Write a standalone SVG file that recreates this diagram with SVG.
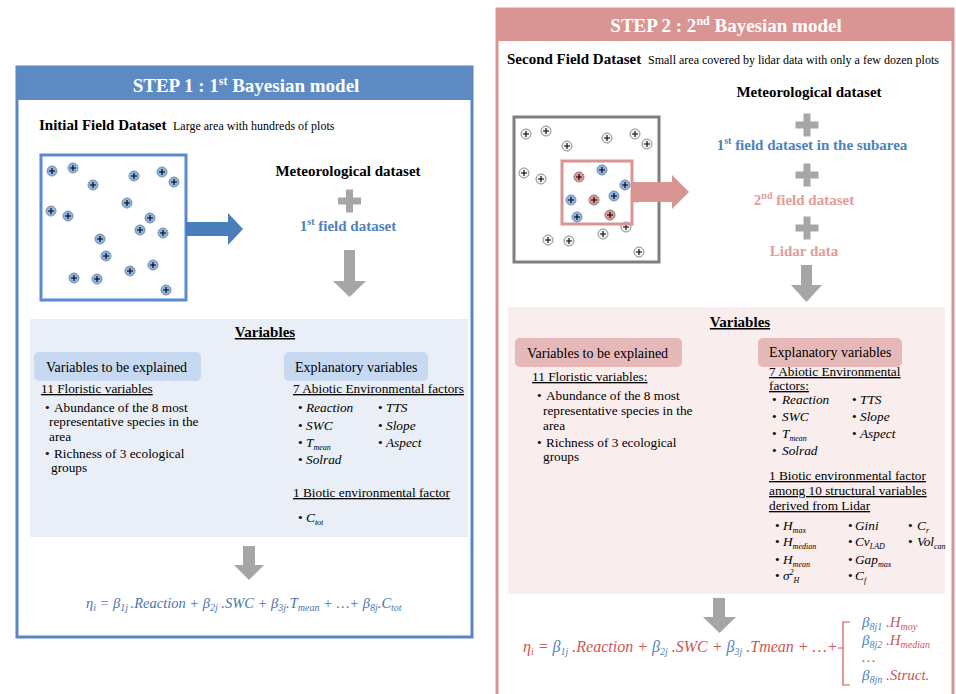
<svg xmlns="http://www.w3.org/2000/svg" xmlns:xlink="http://www.w3.org/1999/xlink" width="956" height="694" viewBox="0 0 956 694">
<style>
text{font-family:'Liberation Serif','Times New Roman',serif;fill:#000}
.hdr{font-size:19px;font-weight:bold;fill:#fff;text-anchor:middle}
.ttl{font-size:15px;font-weight:bold}
.sub{font-size:12px}
.lbl{font-size:14px}
.t13{font-size:13.3px}
.u{text-decoration:underline}
.it{font-style:italic}
.mid{text-anchor:middle}
.blue{fill:#4F81BD}
.pink{fill:#E29C9B}
.red{fill:#CF5654}
.eq1{fill:#4A72AE;font-style:italic;font-size:14.5px}
.eq2{font-style:italic;font-size:16px}
.eq3{font-style:italic;font-size:15px}
.arrowG{fill:#A6A6A6}
</style>
<defs>
<g id="dotB"><circle r="5" fill="#8DB3E2" stroke="#7F8FA6" stroke-width="1"/><path d="M-3 0H3M0-3V3" stroke="#000" stroke-width="1.1"/></g>
<g id="dotR"><circle r="5" fill="#E39494" stroke="#8F7F7F" stroke-width="1"/><path d="M-3 0H3M0-3V3" stroke="#000" stroke-width="1.1"/></g>
<g id="dotG"><circle r="5" fill="#F2F2F2" stroke="#8C8C8C" stroke-width="1"/><path d="M-3 0H3M0-3V3" stroke="#000" stroke-width="1.1"/></g>
<path id="plus" d="M-11.5-3.5H-3.5V-11.5H3.5V-3.5H11.5V3.5H3.5V11.5H-3.5V3.5H-11.5Z" fill="#A6A6A6"/>
</defs>

<!-- STEP 1 -->
<g id="step1">
<rect x="17" y="67" width="455" height="570" fill="#fff" stroke="#5A86C1" stroke-width="3"/>
<rect x="17" y="67" width="455" height="33" fill="#5E8AC4"/>
<text class="hdr" x="246" y="92">STEP 1 : 1<tspan font-size="12" dy="-7">st</tspan><tspan dy="7"> Bayesian model</tspan></text>
</g>

<g id="initialDataset">
<text class="ttl" x="39" y="130">Initial Field Dataset</text>
<text class="sub" x="173" y="130">Large area with hundreds of plots</text>
<rect x="41" y="155" width="145" height="145" fill="#fff" stroke="#5A8AD0" stroke-width="3"/>
<use href="#dotB" x="52" y="171"/><use href="#dotB" x="73" y="168"/><use href="#dotB" x="93" y="185"/>
<use href="#dotB" x="134" y="176"/><use href="#dotB" x="162" y="172"/><use href="#dotB" x="174" y="182"/>
<use href="#dotB" x="127" y="203"/><use href="#dotB" x="51" y="211"/><use href="#dotB" x="68" y="216"/>
<use href="#dotB" x="150" y="218"/><use href="#dotB" x="140" y="230"/><use href="#dotB" x="163" y="233"/>
<use href="#dotB" x="100" y="239"/><use href="#dotB" x="106" y="256"/><use href="#dotB" x="153" y="265"/>
<use href="#dotB" x="130" y="271"/><use href="#dotB" x="74" y="278"/><use href="#dotB" x="97" y="279"/>
<use href="#dotB" x="166" y="290"/>
</g>

<g id="datasets1">
<text class="ttl mid" x="348" y="176">Meteorological dataset</text>
<use href="#plus" x="349.5" y="201"/>
<text class="ttl mid blue" x="348" y="231">1<tspan font-size="10" dy="-6">st</tspan><tspan dy="6">  field dataset</tspan></text>
</g>

<g id="variables1">
<rect x="30" y="319" width="438" height="218" fill="#E9EEF7"/>
<text class="ttl u mid" x="265" y="337">Variables</text>
<rect x="34" y="352" width="167" height="29" rx="5" fill="#C6D9F1"/>
<text class="lbl" x="46" y="372">Variables to be explained</text>
<text class="t13 u" x="41" y="393">11 Floristic variables</text>
<text class="t13"><tspan x="45" y="412">•</tspan><tspan x="54" y="412">Abundance of the 8 most</tspan><tspan x="49" y="426">representative species in the</tspan><tspan x="49" y="441">area</tspan><tspan x="45" y="458">•</tspan><tspan x="54" y="458">Richness  of 3 ecological</tspan><tspan x="51" y="472">groups</tspan></text>
<rect x="284" y="352" width="144" height="29" rx="5" fill="#C6D9F1"/>
<text class="lbl" x="295" y="372">Explanatory variables</text>
<text class="t13 u" x="293" y="393">7 Abiotic Environmental factors</text>
<text class="t13"><tspan x="298" y="412">•</tspan><tspan x="298" y="430">•</tspan><tspan x="298" y="447">•</tspan><tspan x="298" y="464">•</tspan><tspan x="378" y="412">•</tspan><tspan x="378" y="430">•</tspan><tspan x="378" y="447">•</tspan></text>
<text class="t13 it"><tspan x="306" y="412">Reaction</tspan><tspan x="306" y="430">SWC</tspan><tspan x="306" y="447">T</tspan><tspan font-size="8" dy="3">mean</tspan><tspan x="306" y="464">Solrad</tspan><tspan x="386" y="412">TTS</tspan><tspan x="386" y="430">Slope</tspan><tspan x="386" y="447">Aspect</tspan></text>
<text class="t13 u" x="293" y="497">1 Biotic environmental factor</text>
<text class="t13"><tspan x="298" y="522">•</tspan></text>
<text class="t13 it" x="306" y="522">C<tspan font-size="8" dy="3">tot</tspan></text>
</g>

<g id="equation1">
<text class="eq1" x="86" y="608">η<tspan font-size="10" dy="3">i</tspan><tspan dy="-3"> = β</tspan><tspan font-size="10" dy="3">1j </tspan><tspan dy="-3">.Reaction + β</tspan><tspan font-size="10" dy="3">2j</tspan><tspan dy="-3"> .SWC + β</tspan><tspan font-size="10" dy="3">3j</tspan><tspan dy="-3">.T</tspan><tspan font-size="10" dy="3">mean</tspan><tspan dy="-3"> + …+ β</tspan><tspan font-size="10" dy="3">8j</tspan><tspan dy="-3">.C</tspan><tspan font-size="10" dy="3">tot</tspan></text>
</g>

<!-- STEP 2 -->
<g id="step2">
<rect x="497" y="9" width="456" height="700" fill="#fff" stroke="#D99594" stroke-width="3"/>
<rect x="497" y="9" width="456" height="32" fill="#D99594"/>
<text class="hdr" x="726" y="32">STEP 2 : 2<tspan font-size="12" dy="-7">nd</tspan><tspan dy="7"> Bayesian model</tspan></text>
</g>

<g id="secondDataset">
<text class="ttl" x="507" y="64">Second Field Dataset</text>
<text class="sub" x="648" y="64">Small area covered by lidar data with only a few dozen plots</text>
<rect x="514" y="117" width="145" height="145" fill="#fff" stroke="#7F7F7F" stroke-width="3"/>
<use href="#dotG" x="526" y="134"/><use href="#dotG" x="546" y="131"/><use href="#dotG" x="567" y="146"/>
<use href="#dotG" x="607" y="138"/><use href="#dotG" x="635" y="134"/><use href="#dotG" x="647" y="144"/>
<use href="#dotG" x="524" y="173"/><use href="#dotG" x="541" y="179"/><use href="#dotG" x="637" y="197"/>
<use href="#dotG" x="626" y="227"/><use href="#dotG" x="603" y="234"/><use href="#dotG" x="548" y="240"/>
<use href="#dotG" x="569" y="241"/><use href="#dotG" x="639" y="252"/>
<rect x="562" y="161" width="70" height="63" fill="none" stroke="#D99594" stroke-width="3"/>
<use href="#dotB" x="602" y="170"/><use href="#dotB" x="625" y="185"/><use href="#dotB" x="571" y="200"/>
<use href="#dotB" x="614" y="196"/><use href="#dotB" x="577" y="217"/>
<use href="#dotR" x="579" y="177"/><use href="#dotR" x="594" y="200"/><use href="#dotR" x="610" y="215"/>
</g>

<g id="datasets2">
<text class="ttl mid" x="809" y="97">Meteorological dataset</text>
<use href="#plus" x="807" y="125"/>
<text class="ttl mid blue" x="812" y="150">1<tspan font-size="10" dy="-6">st</tspan><tspan dy="6"> field dataset in the subarea</tspan></text>
<use href="#plus" x="807" y="175"/>
<text class="ttl mid pink" x="804" y="205">2<tspan font-size="10" dy="-6">nd</tspan><tspan dy="6"> field dataset</tspan></text>
<use href="#plus" x="807" y="228"/>
<text class="ttl mid pink" x="804" y="256">Lidar data</text>
</g>

<g id="variables2">
<rect x="508" y="307" width="437" height="287" fill="#F9EDED"/>
<text class="ttl u mid" x="740" y="327">Variables</text>
<rect x="515" y="338" width="167" height="29" rx="5" fill="#E6B9B8"/>
<text class="lbl" x="527" y="358">Variables to be explained</text>
<text class="t13 u" x="532" y="381">11 Floristic variables:</text>
<text class="t13"><tspan x="537" y="400">•</tspan><tspan x="546" y="400">Abundance of the 8 most</tspan><tspan x="543" y="415">representative species in the</tspan><tspan x="543" y="430">area</tspan><tspan x="537" y="447">•</tspan><tspan x="546" y="447">Richness  of 3 ecological</tspan><tspan x="543" y="461">groups</tspan></text>
<rect x="758" y="338" width="144" height="29" rx="5" fill="#E6B9B8"/>
<text class="lbl" x="769" y="357">Explanatory variables</text>
<text class="t13 u"><tspan x="769" y="376">7 Abiotic Environmental</tspan><tspan x="769" y="390">factors:</tspan></text>
<text class="t13"><tspan x="772" y="404">•</tspan><tspan x="772" y="421">•</tspan><tspan x="772" y="438">•</tspan><tspan x="772" y="455">•</tspan><tspan x="852" y="404">•</tspan><tspan x="852" y="421">•</tspan><tspan x="852" y="438">•</tspan></text>
<text class="t13 it"><tspan x="782" y="404">Reaction</tspan><tspan x="782" y="421">SWC</tspan><tspan x="782" y="438">T</tspan><tspan font-size="8" dy="3">mean</tspan><tspan x="782" y="455">Solrad</tspan><tspan x="860" y="404">TTS</tspan><tspan x="860" y="421">Slope</tspan><tspan x="860" y="438">Aspect</tspan></text>
<text class="t13 u"><tspan x="769" y="480">1 Biotic environmental factor</tspan><tspan x="769" y="495">among 10 structural variables</tspan><tspan x="769" y="510">derived from Lidar</tspan></text>
<text class="t13"><tspan x="775" y="530">•</tspan><tspan x="775" y="546">•</tspan><tspan x="775" y="564">•</tspan><tspan x="775" y="580">•</tspan><tspan x="848" y="530">•</tspan><tspan x="848" y="546">•</tspan><tspan x="848" y="564">•</tspan><tspan x="848" y="580">•</tspan><tspan x="908" y="530">•</tspan><tspan x="908" y="546">•</tspan></text>
<text class="t13 it"><tspan x="783" y="530">H</tspan><tspan font-size="8" dy="3">max</tspan><tspan x="783" y="546">H</tspan><tspan font-size="8" dy="3">median</tspan><tspan x="783" y="564">H</tspan><tspan font-size="8" dy="3">mean</tspan><tspan x="783" y="580">σ</tspan><tspan font-size="8" dy="-5">2</tspan><tspan font-size="8" dy="8">H</tspan></text>
<text class="t13 it"><tspan x="855" y="530">Gini</tspan><tspan x="855" y="546">Cv</tspan><tspan font-size="8" dy="3">LAD</tspan><tspan x="855" y="564">Gap</tspan><tspan font-size="8" dy="3">max</tspan><tspan x="855" y="580">C</tspan><tspan font-size="8" dy="3">f</tspan></text>
<text class="t13 it"><tspan x="917" y="530">C</tspan><tspan font-size="8" dy="3">r</tspan><tspan x="917" y="546">Vol</tspan><tspan font-size="8" dy="3">can</tspan></text>
</g>

<g id="equation2">
<text class="eq2 red" x="523" y="652">η<tspan font-size="10" dy="3">i</tspan><tspan dy="-3"> = </tspan><tspan class="blue">β</tspan><tspan class="blue" font-size="10" dy="3">1j</tspan><tspan dy="-3"> .Reaction + </tspan><tspan class="blue">β</tspan><tspan class="blue" font-size="10" dy="3">2j</tspan><tspan dy="-3"> .SWC + </tspan><tspan class="blue">β</tspan><tspan class="blue" font-size="10" dy="3">3j</tspan><tspan dy="-3"> .Tmean + …+</tspan></text>
<path d="M850 622H843V685H850M843 648H838" fill="none" stroke="#CF5654" stroke-width="1.2"/>
<text class="eq3 red"><tspan class="blue" x="862" y="627">β</tspan><tspan class="blue" font-size="10" dy="3">8j1</tspan><tspan dy="-3"> .H</tspan><tspan font-size="10" dy="3">moy</tspan><tspan class="blue" x="862" y="645">β</tspan><tspan class="blue" font-size="10" dy="3">8j2</tspan><tspan dy="-3"> .H</tspan><tspan font-size="10" dy="3">median</tspan><tspan x="862" y="662">…</tspan><tspan class="blue" x="862" y="680">β</tspan><tspan class="blue" font-size="10" dy="3">8jn</tspan><tspan dy="-3"> .Struct.</tspan></text>
</g>

<g id="connectors">
<polygon points="186,222 228,222 228,213 243,229 228,245 228,236 186,236" fill="#4A7EBB"/>
<polygon class="arrowG" points="344,250 355,250 355,281 366,281 349.5,297 333,281 344,281"/>
<polygon class="arrowG" points="243,546 255,546 255,565 264,565 249,580 234,565 243,565"/>
<polygon points="632,182 672,182 672,175 689,192 672,209 672,202 632,202" fill="#D99594"/>
<polygon class="arrowG" points="801,265 812,265 812,285 822,285 806.5,302 791,285 801,285"/>
<polygon class="arrowG" points="713,598 725,598 725,617 736,617 719.5,633 703,617 713,617"/>
</g>
</svg>
